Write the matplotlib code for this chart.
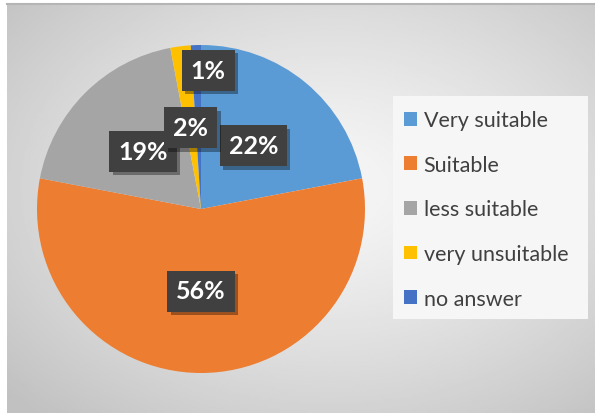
import numpy as np
import matplotlib.pyplot as plt
from matplotlib.patches import Rectangle
import matplotlib.patheffects as pe

labels = ['Very suitable', 'Suitable', 'less suitable', 'very unsuitable', 'no answer']
shares = [22, 56, 19, 2, 1]
colors = ['#5B9BD5', '#ED7D31', '#A5A5A5', '#FFC000', '#4472C4']

plt.rcParams['font.family'] = ['Lato', 'DejaVu Sans']

fig = plt.figure(figsize=(5.95, 4.14), dpi=100)
fig.patch.set_facecolor('white')

# chart area background: soft radial gradient
bg = fig.add_axes([7/595, 0, 1 - 7/595, 1 - 5/414])
yy, xx = np.mgrid[0:1:200j, 0:1:300j]
r = np.sqrt(((xx - 0.55) / 0.75) ** 2 + ((yy - 0.55) / 0.75) ** 2)
shade = 0.965 - 0.21 * np.clip(r, 0, 1) ** 1.3
bg.imshow(shade, cmap='gray', vmin=0, vmax=1, extent=[0, 1, 0, 1],
          origin='lower', aspect='auto', interpolation='bilinear')
bg.plot([0, 1], [1, 1], color='#b5b5b5', lw=1.5, transform=bg.transAxes, clip_on=False)
bg.set_axis_off()

# pie
ax = fig.add_axes([37/595, 40/414, 328/595, 328/414])
wedges, texts, autotexts = ax.pie(
    shares, colors=colors, startangle=90, counterclock=False,
    autopct=lambda p: f'{p:.0f}%', pctdistance=0.5,
    wedgeprops=dict(linewidth=0),
    textprops=dict(color='white', fontsize=18, fontweight='bold'))
ax.set_xlim(-1, 1)
ax.set_ylim(-1, 1)
ax.set_aspect('equal')

# label placement: radial distance and small sideways nudge
label_dist = [0.5, 0.5, 0.5, 0.5, 0.845]
label_nudge = [0, 0, 0, 0, 0.07]
for w, t, d, dx in zip(wedges, autotexts, label_dist, label_nudge):
    mid = np.deg2rad((w.theta1 + w.theta2) / 2)
    t.set_position((d * np.cos(mid) + dx, d * np.sin(mid)))
    t.set_bbox(dict(boxstyle='square,pad=0.36', fc='#404040', ec='none'))
    t.get_bbox_patch().set_path_effects(
        [pe.SimplePatchShadow(offset=(2.5, -2.5), shadow_rgbFace='black', alpha=0.35),
         pe.Normal()])

# legend box
fig.patches.append(Rectangle((393/595, 1 - 320/414), 195/595, 223/414,
                             transform=fig.transFigure, fc='#f6f6f6', ec='none'))
fig.legend(wedges, labels, loc='upper left', bbox_to_anchor=(385/595, 1 - 92/414),
           frameon=False, fontsize=15.5, labelcolor='#404040',
           handlelength=0.6, handleheight=0.6, handletextpad=0.3,
           labelspacing=1.14)

fig.savefig('out.png', dpi=100, facecolor='white')
